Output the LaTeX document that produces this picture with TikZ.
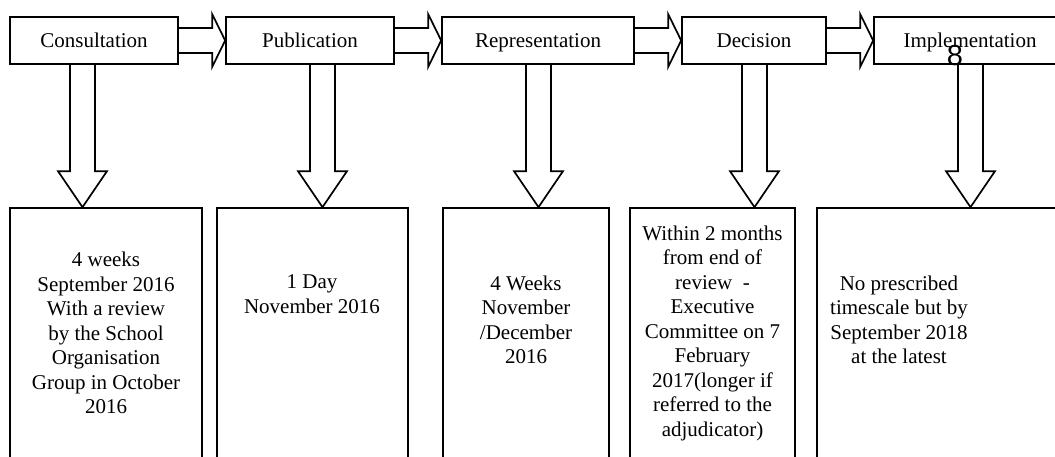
\documentclass[tikz,border=0pt]{standalone}
\usepackage{fontspec}
\setmainfont{Liberation Serif}
\newfontfamily\pagenumfont{Liberation Sans}
\usetikzlibrary{calc}
\newcommand{\hblockarrow}[2]{%
  \draw[blockarrow] ($(#1.east)+(0,-12.5)$) -- ($(#2.west)+(-13,-12.5)$) -- ($(#2.west)+(-13,-26.5)$) -- (#2.west) -- ($(#2.west)+(-13,26.5)$) -- ($(#2.west)+(-13,12.5)$) -- ($(#1.east)+(0,12.5)$);}
\newcommand{\vblockarrow}[3]{%
  \path (#3,0) coordinate (ax);
  \coordinate (vtop) at (ax |- #1.south);
  \coordinate (vtip) at (ax |- #2.north);
  \draw[blockarrow] ($(vtop)+(-12.5,0)$) -- ($(vtip)+(-12.5,-36)$) -- ($(vtip)+(-24.5,-36)$) -- (vtip) -- ($(vtip)+(24.5,-36)$) -- ($(vtip)+(12.5,-36)$) -- ($(vtop)+(12.5,0)$);}
\begin{document}
\begin{tikzpicture}[x=1pt,y=-1pt,line width=1.7pt,
  topbox/.style={draw, rectangle, inner sep=0pt, minimum height=47pt, text height=14pt, text depth=0pt, font=\fontsize{21}{24.5}\selectfont},
  botbox/.style={draw, rectangle, inner sep=0pt, minimum height=262pt},
  bodytext/.style={align=center, anchor=north, inner sep=0pt, font=\fontsize{21}{24.5}\selectfont},
  blockarrow/.style={draw, line join=miter}]
\useasboundingbox (0,0) rectangle (1055,456);
\clip (0,0) rectangle (1055,456);
% top row
\node[topbox, minimum width=168pt] (c) at (94,40.5) {Consultation};
\node[topbox, minimum width=168pt] (p) at (310,40.5) {Publication};
\node[topbox, minimum width=192pt] (r) at (538,40.5) {Representation};
\node[topbox, minimum width=144pt] (d) at (754,40.5) {Decision};
\node[topbox, minimum width=192pt] (i) at (970,40.5) {Implementation};
% bottom row
\node[botbox, minimum width=192pt] (b1) at (106,339) {};
\node[botbox, minimum width=191pt] (b2) at (312.5,339) {};
\node[botbox, minimum width=166pt] (b3) at (526,339) {};
\node[botbox, minimum width=165pt] (b4) at (712.5,339) {};
\node[botbox, minimum width=250pt] (b5) at (942,339) {};
% texts
\node[bodytext] (t1) at (106,251.5) {4 weeks\\September 2016\\ With a review\\by the School\\Organisation\\Group in October\\2016};
\node[bodytext] (t2) at (312,274) {1 Day\\November 2016};
\node[bodytext] (t3) at (526,275) {4 Weeks\\November\\/December\\2016};
\node[bodytext] (t4) at (712.5,225) {Within 2 months\\from end of\\review \ -\\Executive\\Committee on 7\\February\\2017(longer if\\referred to the\\adjudicator)};
\node[bodytext] (t5) at (899,275) {No prescribed\\timescale but by\\September 2018\\at the latest};
% horizontal arrows
\hblockarrow{c}{p}
\hblockarrow{p}{r}
\hblockarrow{r}{d}
\hblockarrow{d}{i}
% vertical arrows
\vblockarrow{c}{b1}{82.5}
\vblockarrow{p}{b2}{322.5}
\vblockarrow{r}{b3}{538.5}
\vblockarrow{d}{b4}{754.5}
\vblockarrow{i}{b5}{970.5}
% page number
\node[font=\pagenumfont\fontsize{29}{29}\selectfont, inner sep=0pt] (pn) at (955,55.5) {8};
\end{tikzpicture}
\end{document}
